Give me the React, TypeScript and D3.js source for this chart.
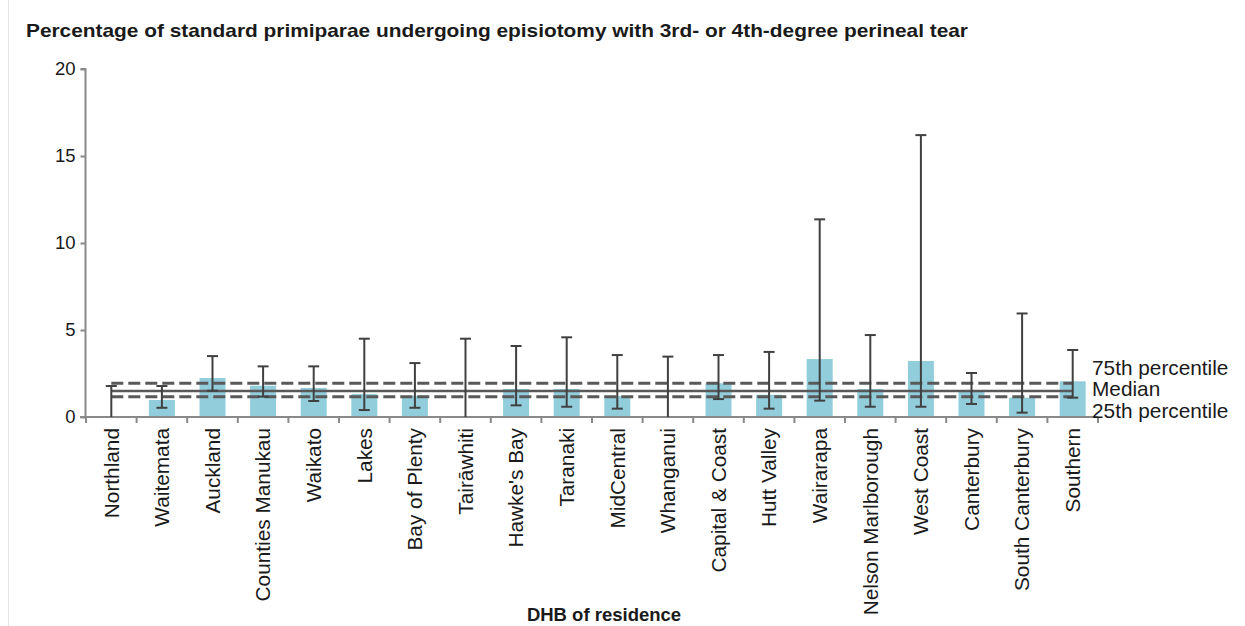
import { useEffect, useRef } from "react";
import * as d3 from "d3";

const categories = [
  "Northland",
  "Waitemata",
  "Auckland",
  "Counties Manukau",
  "Waikato",
  "Lakes",
  "Bay of Plenty",
  "Tairāwhiti",
  "Hawke's Bay",
  "Taranaki",
  "MidCentral",
  "Whanganui",
  "Capital & Coast",
  "Hutt Valley",
  "Wairarapa",
  "Nelson Marlborough",
  "West Coast",
  "Canterbury",
  "South Canterbury",
  "Southern",
];

const rates = [0, 0.98, 2.24, 1.8, 1.67, 1.32, 1.22, 0, 1.61, 1.61, 1.21, 0, 1.94, 1.28, 3.33, 1.61, 3.22, 1.45, 1.11, 2.05];
const lowerCI = [0, 0.53, 1.51, 1.17, 0.92, 0.4, 0.53, 0, 0.67, 0.59, 0.48, 0, 1.03, 0.48, 0.94, 0.59, 0.59, 0.75, 0.25, 1.11];
const upperCI = [1.78, 1.78, 3.5, 2.91, 2.91, 4.5, 3.1, 4.5, 4.08, 4.58, 3.56, 3.47, 3.56, 3.74, 11.36, 4.71, 16.2, 2.53, 5.95, 3.85];

const yTicks = [0, 5, 10, 15, 20];

const percentiles = [
  { label: "75th percentile", value: 1.94, dashed: true },
  { label: "Median", value: 1.49, dashed: false },
  { label: "25th percentile", value: 1.17, dashed: true },
];

const W = 1245;
const H = 626;

const App = () => {
  const svgRef = useRef<SVGSVGElement | null>(null);

  useEffect(() => {
    if (!svgRef.current) return;
    const svg = d3.select(svgRef.current);
    svg.selectAll("*").remove();

    const font = "'Liberation Sans', Arial, sans-serif";
    const axisColor = "#898989";
    const barColor = "#92CDDC";
    const errColor = "#404040";

    const band = d3.scaleBand().domain(categories).range([86, 1098]);
    const y = d3.scaleLinear().domain([0, 20]).range([417, 69]);

    const data = categories.map((c, i) => ({ c, v: rates[i], lo: lowerCI[i], hi: upperCI[i] }));
    const cx = (c: string) => (band(c) || 0) + band.bandwidth() / 2;

    // faint frame on the left
    svg.append("line").attr("x1", 8.5).attr("x2", 8.5).attr("y1", 0).attr("y2", H)
      .attr("stroke", "#e4e4e4").attr("stroke-width", 1);

    // title
    svg.append("text")
      .attr("x", 26).attr("y", 37)
      .attr("font-family", font).attr("font-weight", "bold").attr("font-size", 19)
      .attr("fill", "#1a1a1a")
      .attr("textLength", 942).attr("lengthAdjust", "spacingAndGlyphs")
      .text("Percentage of standard primiparae undergoing episiotomy with 3rd- or 4th-degree perineal tear");

    // bars
    svg.append("g").selectAll("rect").data(data).enter().append("rect")
      .attr("x", (d) => cx(d.c) - 13)
      .attr("width", 26)
      .attr("y", (d) => y(d.v))
      .attr("height", (d) => y(0) - y(d.v))
      .attr("fill", barColor);

    // y axis
    const yAxis = svg.append("g").attr("transform", "translate(85.5,0)")
      .call(d3.axisLeft(y).tickValues(yTicks).tickSize(5).tickPadding(5));
    yAxis.select(".domain").attr("stroke", axisColor).attr("stroke-width", 2).attr("d", `M-5,${y(20)}H0V${y(0)}`);
    yAxis.selectAll(".tick line").attr("stroke", axisColor).attr("stroke-width", 2);
    yAxis.selectAll(".tick text").attr("font-family", font).attr("font-size", 18.5).attr("fill", "#1a1a1a");

    // x axis line and ticks at band boundaries
    const gx = svg.append("g");
    gx.append("line").attr("x1", 80).attr("x2", 1098).attr("y1", y(0)).attr("y2", y(0))
      .attr("stroke", axisColor).attr("stroke-width", 2);
    const bounds = categories.map((c) => band(c) || 0).concat([1098]);
    gx.selectAll("line.tk").data(bounds).enter().append("line").attr("class", "tk")
      .attr("x1", (d) => d).attr("x2", (d) => d)
      .attr("y1", y(0)).attr("y2", y(0) + 6)
      .attr("stroke", axisColor).attr("stroke-width", 2);

    gx.selectAll("text").data(categories).enter().append("text")
      .attr("transform", (d) => `translate(${cx(d)},428) rotate(-90)`)
      .attr("text-anchor", "end")
      .attr("dy", "0.35em")
      .attr("font-family", font).attr("font-size", 20.8).attr("fill", "#1a1a1a")
      .text((d) => d);

    // x axis title
    svg.append("text")
      .attr("x", 604).attr("y", 621)
      .attr("text-anchor", "middle")
      .attr("font-family", font).attr("font-weight", "bold").attr("font-size", 18.5)
      .attr("fill", "#1a1a1a")
      .text("DHB of residence");

    // percentile lines
    const x0 = cx(categories[0]);
    const x1 = cx(categories[categories.length - 1]);
    svg.append("g").selectAll("line").data(percentiles).enter().append("line")
      .attr("x1", x0).attr("x2", x1)
      .attr("y1", (d) => y(d.value)).attr("y2", (d) => y(d.value))
      .attr("stroke", "#595959")
      .attr("stroke-width", (d) => (d.dashed ? 3 : 2.5))
      .attr("stroke-dasharray", (d) => (d.dashed ? "12,5" : null));

    // percentile labels
    const labelOffsets = [-16, -2, 14];
    svg.append("g").selectAll("text").data(percentiles).enter().append("text")
      .attr("x", 1092)
      .attr("y", (d, i) => y(d.value) + labelOffsets[i])
      .attr("dy", "0.35em")
      .attr("font-family", font).attr("font-size", 20.8).attr("fill", "#1a1a1a")
      .text((d) => d.label);

    // error bars
    const eg = svg.append("g").attr("stroke", errColor).attr("stroke-width", 2);
    data.forEach((d) => {
      const px = cx(d.c);
      eg.append("line").attr("x1", px).attr("x2", px).attr("y1", y(d.lo)).attr("y2", y(d.hi));
      eg.append("line").attr("x1", px - 5.5).attr("x2", px + 5.5).attr("y1", y(d.hi)).attr("y2", y(d.hi));
      if (d.lo > 0) {
        eg.append("line").attr("x1", px - 5.5).attr("x2", px + 5.5).attr("y1", y(d.lo)).attr("y2", y(d.lo));
      }
    });
  }, []);

  return (
    <svg
      ref={svgRef}
      width={W}
      height={H}
      style={{ position: "absolute", left: 0, top: 0, background: "#fff" }}
    ></svg>
  );
};

export default App;
